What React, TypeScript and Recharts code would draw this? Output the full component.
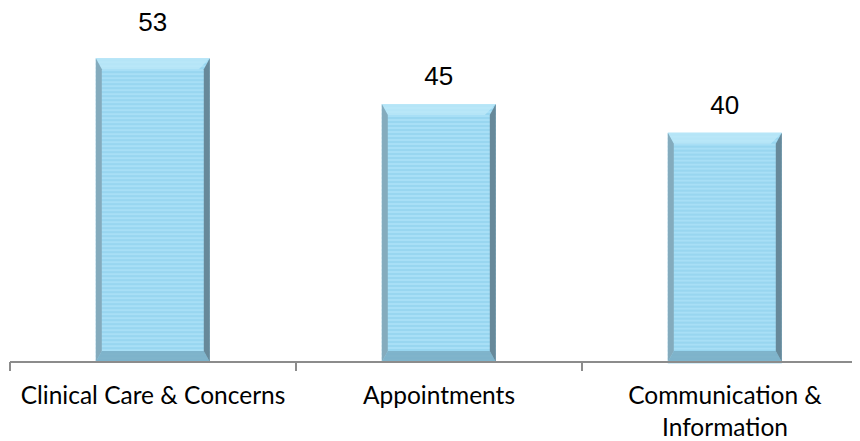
import React from "react";
import { BarChart, Bar, XAxis, YAxis, LabelList } from "recharts";

const categories = ["Clinical Care & Concerns", "Appointments", "Communication & Information"];
const values = [53, 45, 40];

const data = categories.map((name, i) => ({ name, value: values[i] }));

const LABEL_GAPS = [27, 19, 19];

const BevelBar = (props: any) => {
  const { x, y, width, height } = props;
  if (!height || height <= 0) return null;
  const b = 11;
  const s = 6;
  const stripes = [];
  for (let yy = y + 1; yy < y + height; yy += 4) {
    stripes.push(
      <rect key={yy} x={x} y={yy} width={width} height={2} fill="#8ACDEB" fillOpacity={0.55} />
    );
  }
  return (
    <g>
      <rect x={x} y={y} width={width} height={height} fill="#A8DFF6" />
      {stripes}
      <polygon
        points={`${x},${y} ${x + width},${y} ${x + width - b},${y + b} ${x + s},${y + b}`}
        fill="#BDE8F9"
        fillOpacity={0.8}
      />
      <polygon
        points={`${x + s},${y + height - b} ${x + width - s},${y + height - b} ${x + width},${y + height} ${x},${y + height}`}
        fill="#7BAFC6"
        fillOpacity={0.9}
      />
      <polygon
        points={`${x},${y} ${x + s},${y + b} ${x + s},${y + height - b} ${x},${y + height}`}
        fill="#84ABBD"
      />
      <polygon
        points={`${x + width},${y} ${x + width - s},${y + b} ${x + width - s},${y + height - b} ${x + width},${y + height}`}
        fill="#67899A"
      />
    </g>
  );
};

const ValueLabel = (props: any) => {
  const { x, y, width, value, index } = props;
  return (
    <text
      x={x + width / 2}
      y={y - LABEL_GAPS[index]}
      textAnchor="middle"
      fontFamily="Liberation Sans, Arial, sans-serif"
      fontSize={26}
      fill="#000"
    >
      {value}
    </text>
  );
};

const wrapLabel = (label: string, maxChars: number) => {
  const words = label.split(" ");
  const lines: string[] = [];
  let cur = "";
  words.forEach((w) => {
    const next = cur ? cur + " " + w : w;
    if (next.length > maxChars && cur) {
      lines.push(cur);
      cur = w;
    } else {
      cur = next;
    }
  });
  if (cur) lines.push(cur);
  return lines;
};

const CategoryTick = (props: any) => {
  const { x, y, payload, index, visibleTicksCount } = props;
  const lines = wrapLabel(String(payload.value), 24);
  const half = payload.offset || 0;
  return (
    <g>
      <line x1={x - half} y1={y} x2={x - half} y2={y + 9} stroke="#8C8C8C" strokeWidth={2} />
      {index === visibleTicksCount - 1 && (
        <line x1={x + half} y1={y} x2={x + half} y2={y + 9} stroke="#8C8C8C" strokeWidth={2} />
      )}
      <text
        x={x}
        y={y}
        textAnchor="middle"
        fontFamily="Lato, 'Open Sans', sans-serif"
        fontSize={24.5}
        fill="#000"
      >
        {lines.map((l, i) => (
          <tspan key={i} x={x} dy={i === 0 ? 42 : 32}>
            {l}
          </tspan>
        ))}
      </text>
    </g>
  );
};

export default function App() {
  return (
    <BarChart
      width={852}
      height={433}
      data={data}
      margin={{ top: 10, right: -8, bottom: 0, left: 2 }}
      barCategoryGap="30%"
    >
      <XAxis
        dataKey="name"
        axisLine={{ stroke: "#8C8C8C", strokeWidth: 2 }}
        tickLine={false}
        tickSize={0}
        tickMargin={0}
        height={79}
        interval={0}
        tick={<CategoryTick />}
      />
      <YAxis hide domain={[0, 60]} />
      <Bar dataKey="value" isAnimationActive={false} shape={<BevelBar />}>
        <LabelList dataKey="value" content={<ValueLabel />} />
      </Bar>
    </BarChart>
  );
}
